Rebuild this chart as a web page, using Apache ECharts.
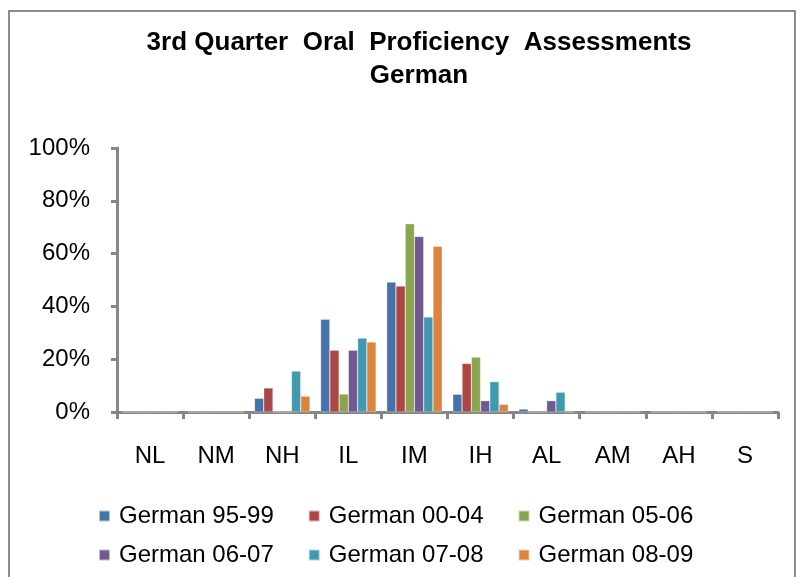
<!DOCTYPE html>
<html>
<head>
<meta charset="utf-8">
<script src="https://cdn.jsdelivr.net/npm/echarts@6/dist/echarts.min.js"></script>
<style>
  html, body { margin: 0; padding: 0; background: #fff; }
  #main { width: 799px; height: 577px; }
</style>
</head>
<body>
<div id="main"></div>
<script>
// proficiency levels on the x axis
var levels = ['NL', 'NM', 'NH', 'IL', 'IM', 'IH', 'AL', 'AM', 'AH', 'S'];

// share of students per level
var g9599 = [0, 0, 0.052, 0.351, 0.492, 0.067, 0.011, 0, 0, 0];
var g0004 = [0, 0, 0.091, 0.234, 0.477, 0.184, 0, 0, 0, 0];
var g0506 = [0, 0, 0, 0.068, 0.713, 0.208, 0, 0, 0, 0];
var g0607 = [0, 0, 0, 0.234, 0.665, 0.043, 0.043, 0, 0, 0];
var g0708 = [0, 0, 0.155, 0.28, 0.36, 0.115, 0.075, 0, 0, 0];
var g0809 = [0, 0, 0.06, 0.265, 0.628, 0.029, 0, 0, 0, 0];

var seriesNames = ['German 95-99', 'German 00-04', 'German 05-06',
                   'German 06-07', 'German 07-08', 'German 08-09'];
var seriesData = [g9599, g0004, g0506, g0607, g0708, g0809];
var colors = ['#4572A7', '#AA4643', '#89A54E', '#71588F', '#4198AF', '#DB843D'];

var FONT = '"Liberation Sans", Arial, sans-serif';
var axisGrey = '#868686';

var chart = echarts.init(document.getElementById('main'));

function legendRow(names, top) {
  return {
    data: names,
    left: 93,
    top: top,
    orient: 'horizontal',
    icon: 'rect',
    itemWidth: 11,
    itemHeight: 11,
    itemGap: 34,
    selectedMode: false,
    textStyle: { fontFamily: FONT, fontSize: 24, color: '#000', padding: [0, 0, 0, 4] }
  };
}

var option = {
  animation: false,
  color: colors,
  title: {
    text: '3rd Quarter  Oral  Proficiency  Assessments\nGerman',
    left: 414,
    textAlign: 'center',
    top: 21,
    textStyle: { fontFamily: FONT, fontSize: 26, fontWeight: 'bold', color: '#000', lineHeight: 33 }
  },
  graphic: [{
    type: 'rect',
    shape: { x: 9, y: 11, width: 786, height: 600 },
    style: { fill: 'none', stroke: '#666', lineWidth: 1.5 },
    silent: true
  }],
  legend: [
    legendRow(seriesNames.slice(0, 3), 499),
    legendRow(seriesNames.slice(3), 538)
  ],
  grid: { left: 117, right: 21, top: 148, bottom: 165, containLabel: false },
  xAxis: {
    type: 'category',
    data: levels,
    axisLine: { lineStyle: { color: axisGrey, width: 3 } },
    axisTick: { show: true, length: 7, lineStyle: { color: axisGrey, width: 3 } },
    axisLabel: { fontFamily: FONT, fontSize: 24, color: '#000', margin: 32 }
  },
  yAxis: {
    type: 'value',
    min: 0,
    max: 1,
    interval: 0.2,
    axisLine: { show: true, lineStyle: { color: axisGrey, width: 3 } },
    axisTick: { show: true, length: 6, lineStyle: { color: axisGrey, width: 3 } },
    splitLine: { show: false },
    axisLabel: {
      fontFamily: FONT, fontSize: 24, color: '#000', margin: 27,
      formatter: function (v) { return Math.round(v * 100) + '%'; }
    }
  },
  series: seriesNames.map(function (name, i) {
    return {
      name: name,
      type: 'bar',
      data: seriesData[i],
      barGap: '0%',
      barCategoryGap: '16%',
      itemStyle: { borderColor: 'rgba(255,255,255,0.6)', borderWidth: 0.5 }
    };
  })
};

chart.setOption(option);
</script>
</body>
</html>
